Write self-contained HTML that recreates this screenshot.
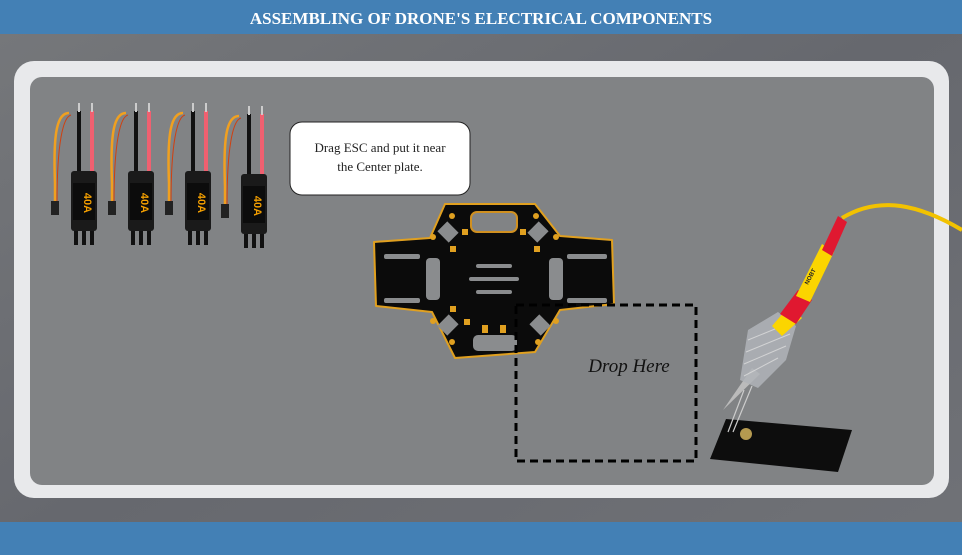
<!DOCTYPE html>
<html><head><meta charset="utf-8"><style>
html,body{margin:0;padding:0;width:962px;height:555px;overflow:hidden;background:#696b70;font-family:"Liberation Serif",serif}
</style></head><body>
<svg width="962" height="555" viewBox="0 0 962 555" xmlns="http://www.w3.org/2000/svg">
<defs>
<linearGradient id="bg" x1="0" y1="0" x2="1" y2="1"><stop offset="0" stop-color="#76787b"/><stop offset="0.5" stop-color="#66686e"/><stop offset="1" stop-color="#707277"/></linearGradient>
<g id="esc">
  <path d="M10 10 C-2 10 -6 30 -4 80 L-4 100" stroke="#f0a020" stroke-width="2.5" fill="none"/>
  <path d="M12 12 C4 14 -2 40 -2 100" stroke="#d04010" stroke-width="1" fill="none"/>
  <rect x="18" y="8" width="4" height="70" fill="#111"/>
  <rect x="31" y="8" width="4" height="70" fill="#f06070"/>
  <rect x="19" y="0" width="2" height="9" fill="#ccc"/>
  <rect x="32" y="0" width="2" height="9" fill="#ccc"/>
  <rect x="-8" y="98" width="8" height="14" fill="#222"/>
  <rect x="12" y="68" width="26" height="60" rx="3" fill="#1a1a1a"/>
  <rect x="14" y="80" width="22" height="37" fill="#0c0c0c"/>
  <text x="25" y="100" font-family="Liberation Sans,sans-serif" font-weight="bold" font-size="11" fill="#f5a000" transform="rotate(90 25 100)" text-anchor="middle">40A</text>
  <rect x="15" y="128" width="4" height="14" fill="#111"/><rect x="23" y="128" width="4" height="14" fill="#111"/><rect x="31" y="128" width="4" height="14" fill="#111"/>
</g>
</defs>
<rect width="962" height="555" fill="url(#bg)"/>
<rect x="0" y="0" width="962" height="34" fill="#4380b5"/>
<text x="481" y="24" text-anchor="middle" font-size="17" font-weight="bold" fill="#fff">ASSEMBLING OF DRONE'S ELECTRICAL COMPONENTS</text>
<rect x="0" y="522" width="962" height="33" fill="#4380b5"/>
<rect x="14" y="61" width="935" height="437" rx="20" fill="#e8e9eb"/>
<rect x="30" y="77" width="904" height="408" rx="12" fill="#818385"/>
<use href="#esc" x="59" y="103"/>
<use href="#esc" x="116" y="103"/>
<use href="#esc" x="173" y="103"/>
<use href="#esc" x="229" y="106"/>
<rect x="290" y="122" width="180" height="73" rx="12" fill="#fff" stroke="#222" stroke-width="1"/>
<text x="380" y="152" text-anchor="middle" font-family="Liberation Serif,serif" font-size="13" fill="#222">Drag ESC and put it near</text>
<text x="380" y="171" text-anchor="middle" font-family="Liberation Serif,serif" font-size="13" fill="#222">the Center plate.</text>
<path d="M445 204 L535 204 L560 236 L612 240 L614 304 L560 310 L535 352 L455 358 L432 312 L376 306 L374 242 L430 238 Z" fill="#0b0b0b" stroke="#e0a020" stroke-width="2" stroke-linejoin="round"/>
<rect x="471" y="212" width="46" height="20" rx="6" fill="#818385" stroke="#d09020" stroke-width="2"/>
<rect x="384" y="254" width="36" height="5" rx="2" fill="#8a8c8e"/><rect x="384" y="298" width="36" height="5" rx="2" fill="#8a8c8e"/>
<rect x="567" y="254" width="40" height="5" rx="2" fill="#8a8c8e"/><rect x="567" y="298" width="40" height="5" rx="2" fill="#8a8c8e"/>
<rect x="426" y="258" width="14" height="42" rx="4" fill="#8a8c8e"/><rect x="549" y="258" width="14" height="42" rx="4" fill="#8a8c8e"/>
<rect x="476" y="264" width="36" height="4" rx="2" fill="#8a8c8e"/><rect x="469" y="277" width="50" height="4" rx="2" fill="#8a8c8e"/><rect x="476" y="290" width="36" height="4" rx="2" fill="#8a8c8e"/>
<rect x="473" y="335" width="44" height="16" rx="5" fill="#8a8c8e"/>
<rect x="440" y="225" width="16" height="14" fill="#8a8c8e" transform="rotate(45 448 232)"/>
<rect x="530" y="225" width="16" height="14" fill="#8a8c8e" transform="rotate(-45 538 232)"/>
<rect x="440" y="318" width="16" height="14" fill="#8a8c8e" transform="rotate(-45 448 325)"/>
<rect x="532" y="318" width="16" height="14" fill="#8a8c8e" transform="rotate(45 540 325)"/>
<g fill="#e0a020"><circle cx="452" cy="216" r="3"/><circle cx="536" cy="216" r="3"/><circle cx="433" cy="237" r="3"/><circle cx="556" cy="237" r="3"/><circle cx="433" cy="321" r="3"/><circle cx="556" cy="321" r="3"/><circle cx="452" cy="342" r="3"/><circle cx="538" cy="342" r="3"/>
<rect x="462" y="229" width="6" height="6"/><rect x="520" y="229" width="6" height="6"/><rect x="450" y="246" width="6" height="6"/><rect x="534" y="246" width="6" height="6"/><rect x="450" y="306" width="6" height="6"/><rect x="464" y="319" width="6" height="6"/><rect x="482" y="325" width="6" height="8"/><rect x="500" y="325" width="6" height="8"/></g>
<rect x="516" y="305" width="180" height="156" fill="none" stroke="#000" stroke-width="3" stroke-dasharray="8,5"/>
<text x="629" y="372" text-anchor="middle" font-family="Liberation Serif,serif" font-style="italic" font-size="19" fill="#111">Drop Here</text>
<path d="M842 218 C880 195 920 205 962 230" stroke="#f2c200" stroke-width="4" fill="none"/>
<path d="M710 459 L726 419 L852 430 L838 472 Z" fill="#0d0d0d"/>
<circle cx="746" cy="434" r="6" fill="#b59a50"/>
<path d="M728 432 L744 390 M733 432 L752 386" stroke="#ccc" stroke-width="1.2"/>
<path d="M723 410 L752 368 L760 374 Z" fill="#bbb"/>
<path d="M740 380 L748 330 L778 312 L796 326 L786 360 L758 388 Z" fill="#b0b4b8" opacity="0.85"/>
<g stroke="#ddd" stroke-width="1" fill="none" opacity="0.8"><path d="M748 340 L792 322"/><path d="M746 352 L790 334"/><path d="M744 364 L786 346"/><path d="M744 376 L778 358"/></g>
<path d="M772 326 L790 305 L802 318 L782 336 Z" fill="#fbd500"/>
<path d="M780 314 L798 290 L812 300 L796 324 Z" fill="#e01830"/>
<path d="M796 296 L822 244 L834 252 L810 302 Z" fill="#fbd500"/>
<path d="M822 250 L838 216 L847 222 L832 256 Z" fill="#e01830"/>
<text x="808" y="285" font-family="Liberation Sans,sans-serif" font-size="6" font-weight="bold" fill="#222" transform="rotate(-62 808 285)">NOBT</text>
</svg>
</body></html>
